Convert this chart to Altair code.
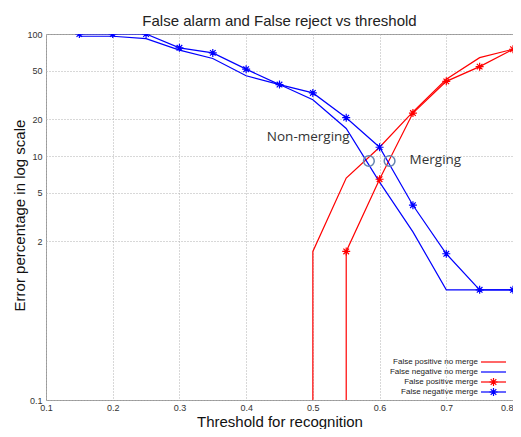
import altair as alt
import pandas as pd

# ---- data (percent, log scale) ----
FLOOR = 0.1  # zero error drawn at the bottom of the log axis

thresholds = [0.15, 0.2, 0.25, 0.3, 0.35, 0.4, 0.45, 0.5, 0.55, 0.6, 0.65, 0.7, 0.75, 0.8]
fn_merge = [100, 100, 100, 77, 70, 51.5, 38.5, 32.9, 20.6, 11.8, 3.95, 1.58, 0.8, 0.8]
fn_nomerge = [95.8, 95.8, 91.6, 73.8, 63, 45.5, 38.5, 28.9, 16.8, 6.1, 2.39, 0.8, 0.8, 0.8]

fp_nomerge_x = [0.5, 0.5, 0.55, 0.6, 0.65, 0.7, 0.75, 0.8]
fp_nomerge = [FLOOR, 1.65, 6.6, 11.8, 23, 42.5, 64, 75]

fp_merge_x = [0.55, 0.55, 0.6, 0.65, 0.7, 0.75, 0.8]
fp_merge = [FLOOR, 1.65, 6.45, 22.5, 40.9, 54, 75]

series_names = ["False positive no merge", "False negative no merge",
                "False positive merge", "False negative merge"]
series_colors = ["#ff0000", "#0000ff", "#ff0000", "#0000ff"]
series_marker = [False, False, True, True]

crossing_x = [0.584, 0.615]
crossing_y = [9.1, 9.1]

annot_text = ["Non-merging", "Merging"]
annot_x = [0.431, 0.645]
annot_y = [14.2, 9.2]

x_ticks = [0.1, 0.2, 0.3, 0.4, 0.5, 0.6, 0.7, 0.8]
y_ticks = [0.1, 2, 5, 10, 20, 50, 100]

# ---- layout ----
W, H = 467, 366
FONT = "Liberation Sans"

# ---- build tables ----
rows = []
def add(name, xs, ys, marker):
    for i, (xv, yv) in enumerate(zip(xs, ys)):
        rows.append({"series": name, "x": xv, "y": yv, "idx": i,
                     "marker": bool(marker and yv > FLOOR)})

add(series_names[0], fp_nomerge_x, fp_nomerge, False)
add(series_names[1], thresholds, fn_nomerge, False)
add(series_names[2], fp_merge_x, fp_merge, True)
add(series_names[3], thresholds, fn_merge, True)
df = pd.DataFrame(rows)

cross_df = pd.DataFrame({"x": crossing_x, "y": crossing_y})
annot_df = pd.DataFrame({"t": annot_text, "x": annot_x, "y": annot_y})

STAR = "M-1,0L1,0M0,-1L0,1M-0.7,-0.7L0.7,0.7M-0.7,0.7L0.7,-0.7"

x_enc = alt.X("x:Q", scale=alt.Scale(domain=[0.1, 0.8], nice=False, zero=False),
              axis=alt.Axis(values=x_ticks, format=".1f", title="Threshold for recognition",
                            grid=True, gridDash=[1, 2], gridColor="#b0b0b0",
                            ticks=False, domain=False, labelFlush=False,
                            labelAlign={"expr": "datum.value > 0.75 ? 'right' : 'center'"},
                            labelFontSize=9, labelColor="#333", labelPadding=3,
                            titleFontSize=15, titleFont=FONT, labelFont=FONT,
                            titleFontWeight="normal", titleColor="#111",
                            titleY=21, titleBaseline="middle"))
y_enc = alt.Y("y:Q", scale=alt.Scale(type="log", domain=[0.1, 100], nice=False),
              axis=alt.Axis(values=y_ticks, format="~g", title="Error percentage in log scale",
                            grid=True, gridDash=[1, 2], gridColor="#b0b0b0",
                            ticks=False, domain=False, labelFlush=False,
                            labelFontSize=9, labelColor="#333", labelPadding=4,
                            titleFontSize=15, titleFont=FONT, labelFont=FONT,
                            titleFontWeight="normal", titleColor="#111",
                            titleX=-27, titleY=H / 2 - 2, titleBaseline="middle"))

stroke_scale = alt.Scale(domain=series_names, range=series_colors)

lines = alt.Chart(df).mark_line(strokeWidth=1.2, clip=True).encode(
    x=x_enc, y=y_enc,
    stroke=alt.Stroke("series:N", scale=stroke_scale, legend=None),
    detail="series:N",
    order="idx:Q",
)

stars = alt.Chart(df).transform_filter("datum.marker").mark_point(
    shape=STAR, size=64, filled=False, strokeWidth=1.2, opacity=1, clip=True
).encode(
    x="x:Q", y="y:Q",
    stroke=alt.Stroke("series:N", scale=stroke_scale, legend=None),
)

circles = alt.Chart(cross_df).mark_point(shape="circle", size=115, filled=False,
                                         strokeWidth=1.5, color="#6585b0", opacity=1).encode(
    x="x:Q", y="y:Q")

texts = alt.Chart(annot_df).mark_text(align="left", baseline="middle", font="Open Sans",
                                      fontSize=13.5, color="#333").encode(
    x="x:Q", y="y:Q", text="t:N")

# ---- legend box (bottom right, gnuplot style: label then sample) ----
LEG_SYM_X1 = W - 32
LEG_SYM_X2 = W - 7
LEG_TEXT_X = W - 35
LEG_ROW_Y0 = H - 38
LEG_ROW_STEP = 10
legend_layers = []
for i, (name, col, mk) in enumerate(zip(series_names, series_colors, series_marker)):
    ydy = LEG_ROW_Y0 + i * LEG_ROW_STEP
    ldf = pd.DataFrame({"series": [name]})
    legend_layers.append(
        alt.Chart(ldf).mark_text(align="right", baseline="middle", font=FONT,
                                 fontSize=8, color="#222").encode(
            x=alt.value(LEG_TEXT_X), y=alt.value(ydy), text="series:N"))
    legend_layers.append(
        alt.Chart(ldf).mark_rule(strokeWidth=1.2, color=col).encode(
            x=alt.value(LEG_SYM_X1), x2=alt.value(LEG_SYM_X2), y=alt.value(ydy)))
    if mk:
        legend_layers.append(
            alt.Chart(ldf).mark_point(shape=STAR, size=64, filled=False, strokeWidth=1.2,
                                      color=col, opacity=1).encode(
                x=alt.value((LEG_SYM_X1 + LEG_SYM_X2) / 2), y=alt.value(ydy)))

chart = alt.layer(lines, stars, circles, texts, *legend_layers).properties(
    width=W, height=H,
    autosize=alt.AutoSizeParams(type="none"),
    padding={"left": 38, "top": 26, "right": 0, "bottom": 29},
    title=alt.TitleParams("False alarm and False reject vs threshold", fontSize=15,
                          font=FONT, fontWeight="normal", color="#222", offset=1),
).configure_view(stroke="#999", strokeWidth=1)

chart.save("out.html", embed_options={"renderer": "svg", "actions": False})
